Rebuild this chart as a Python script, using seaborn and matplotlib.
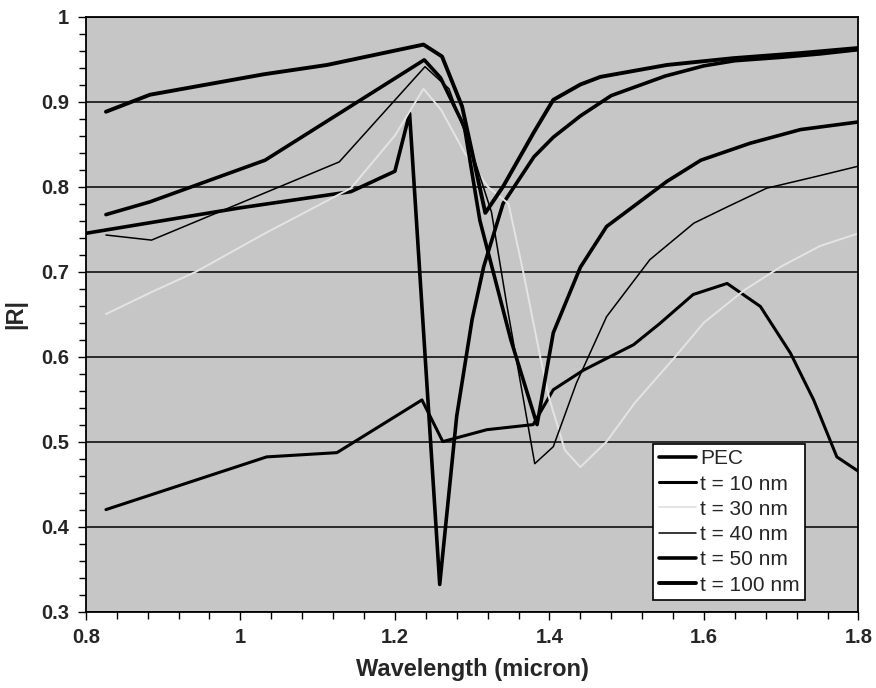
import matplotlib
matplotlib.use("Agg")
import matplotlib.pyplot as plt
from matplotlib.ticker import MultipleLocator
import seaborn as sns
import pandas as pd

# values
wl_pec = [0.80, 1.00, 1.143, 1.20, 1.219, 1.258, 1.28, 1.30, 1.315, 1.34, 1.38, 1.405, 1.44, 1.48, 1.55, 1.60, 1.64, 1.70, 1.75, 1.80]
r_pec = [0.745, 0.775, 0.794, 0.818, 0.886, 0.332, 0.53, 0.644, 0.706, 0.78, 0.835, 0.858, 0.883, 0.907, 0.93, 0.942, 0.948, 0.952, 0.956, 0.961]

wl_10 = [0.826, 1.034, 1.125, 1.235, 1.262, 1.319, 1.379, 1.405, 1.444, 1.509, 1.543, 1.586, 1.63, 1.673, 1.712, 1.742, 1.772, 1.80]
r_10 = [0.42, 0.482, 0.487, 0.549, 0.50, 0.514, 0.52, 0.561, 0.584, 0.614, 0.639, 0.673, 0.686, 0.659, 0.604, 0.549, 0.482, 0.465]

wl_30 = [0.826, 0.883, 0.943, 1.032, 1.143, 1.20, 1.237, 1.26, 1.29, 1.32, 1.347, 1.366, 1.388, 1.40, 1.42, 1.44, 1.474, 1.51, 1.563, 1.60, 1.652, 1.70, 1.75, 1.80]
r_30 = [0.65, 0.675, 0.70, 0.745, 0.798, 0.86, 0.915, 0.89, 0.84, 0.80, 0.78, 0.70, 0.60, 0.55, 0.49, 0.47, 0.50, 0.545, 0.60, 0.64, 0.678, 0.706, 0.73, 0.745]

wl_40 = [0.826, 0.885, 1.128, 1.239, 1.27, 1.30, 1.325, 1.345, 1.381, 1.405, 1.435, 1.474, 1.53, 1.587, 1.63, 1.681, 1.746, 1.80]
r_40 = [0.743, 0.737, 0.829, 0.941, 0.915, 0.84, 0.77, 0.66, 0.474, 0.494, 0.569, 0.647, 0.714, 0.757, 0.776, 0.798, 0.812, 0.824]

wl_50 = [0.826, 0.883, 1.032, 1.238, 1.259, 1.29, 1.31, 1.35, 1.384, 1.405, 1.44, 1.474, 1.552, 1.596, 1.66, 1.725, 1.80]
r_50 = [0.767, 0.782, 0.831, 0.949, 0.928, 0.87, 0.76, 0.62, 0.52, 0.628, 0.705, 0.753, 0.806, 0.831, 0.851, 0.867, 0.876]

wl_100 = [0.826, 0.883, 1.03, 1.112, 1.237, 1.261, 1.287, 1.317, 1.34, 1.38, 1.405, 1.44, 1.466, 1.552, 1.638, 1.725, 1.80]
r_100 = [0.888, 0.908, 0.932, 0.943, 0.967, 0.953, 0.894, 0.769, 0.80, 0.864, 0.902, 0.92, 0.929, 0.943, 0.951, 0.957, 0.963]

series = [
    ("PEC", wl_pec, r_pec, "black", 2.6),
    ("t = 10 nm", wl_10, r_10, "black", 2.2),
    ("t = 30 nm", wl_30, r_30, "#e4e4e4", 1.4),
    ("t = 40 nm", wl_40, r_40, "black", 1.1),
    ("t = 50 nm", wl_50, r_50, "black", 2.6),
    ("t = 100 nm", wl_100, r_100, "black", 2.8),
]

sns.set_theme(style="ticks")
plt.rcParams["font.family"] = ["Liberation Sans", "DejaVu Sans"]

fig, ax = plt.subplots(figsize=(8.76, 6.88), dpi=100)
fig.subplots_adjust(left=0.098, right=0.98, bottom=0.111, top=0.976)
ax.set_facecolor("#c6c6c6")

for name, x, y, col, lw in series:
    df = pd.DataFrame({"wl": x, "R": y})
    sns.lineplot(data=df, x="wl", y="R", ax=ax, color=col, linewidth=lw,
                 label=name, sort=False, estimator=None)

ax.set_xlim(0.8, 1.8)
ax.set_ylim(0.3, 1.0)
ax.xaxis.set_major_locator(MultipleLocator(0.2))
ax.xaxis.set_minor_locator(MultipleLocator(0.04))
ax.yaxis.set_major_locator(MultipleLocator(0.1))
ax.yaxis.set_minor_locator(MultipleLocator(0.02))
ax.set_xticklabels([f"{v:g}" for v in ax.get_xticks()])
ax.set_yticklabels([f"{v:g}" for v in ax.get_yticks()])
ax.tick_params(which="both", direction="out", color="black", width=1)
ax.tick_params(which="major", length=6, labelsize=14.5, pad=6)
ax.tick_params(which="minor", length=5)
for lab in ax.get_xticklabels() + ax.get_yticklabels():
    lab.set_fontweight("bold")

ax.yaxis.grid(True, which="major", color="black", linewidth=1.1)
ax.xaxis.grid(False)
ax.set_axisbelow(True)
for sp in ax.spines.values():
    sp.set_color("black")
    sp.set_linewidth(1.3)

ax.set_xlabel("Wavelength (micron)", fontsize=17, fontweight="bold", labelpad=8)
ax.set_ylabel("|R|", fontsize=17, fontweight="bold", labelpad=10)

leg = ax.legend(loc="lower right", bbox_to_anchor=(0.931, 0.02), fontsize=15,
                frameon=True, fancybox=False, framealpha=1, edgecolor="black",
                facecolor="white", borderpad=0.25, labelspacing=0.3,
                handlelength=1.8, handletextpad=0.2, borderaxespad=0)
leg.get_frame().set_linewidth(1.2)

fig.savefig("out.png", dpi=100)
